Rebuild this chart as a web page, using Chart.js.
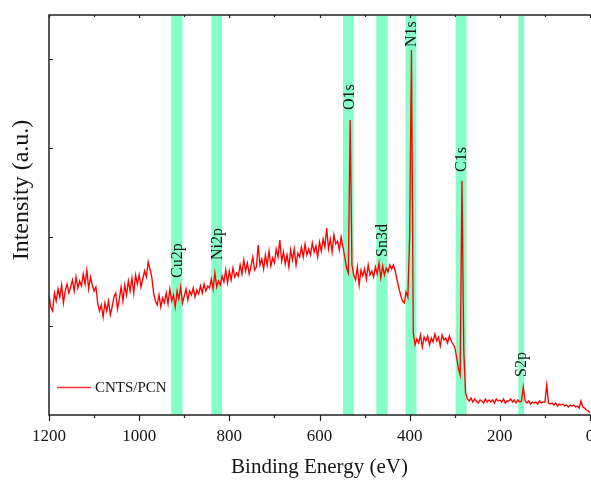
<!DOCTYPE html>
<html><head><meta charset="utf-8">
<script src="https://cdn.jsdelivr.net/npm/chart.js@4.4.0/dist/chart.umd.min.js"></script>
<style>html,body{margin:0;padding:0;background:#fff;}#wrap{width:591px;height:483px;}</style>
</head><body><div id="wrap"><canvas id="c" width="591" height="483"></canvas></div>
<script>
// Binding energy grid of the survey scan (eV)
const energyStart = 1200;
const energyStep = 4;
// Intensity (a.u.), one value per grid energy, 1200 -> 0 eV
const intensity = [
120,108,104,122,114, 126,118,130,112,124, 131,122,128,135,124, 138,127,134,129,141,
131,145,126,138,130, 124,128,112,104,110, 98,112,104,114,100, 108,118,122,106,116,
128,114,130,120,134, 124,137,122,140,131, 140,128,136,144,138, 153,146,138,122,114,
110,120,108,117,112, 122,111,126,114,120, 108,124,116,128,112, 119,126,115,124,120,
127,118,125,121,129, 122,131,124,129,127, 136,126,142,128,134, 130,139,133,145,132,
144,135,147,138,142, 139,150,141,155,144, 152,141,149,158,145, 148,170,150,156,146,
160,150,164,149,157, 152,166,158,175,154, 163,151,160,148,165, 155,166,150,162,158,
168,158,171,160,166, 160,172,163,169,158, 173,164,176,168,187, 166,176,163,180,171,
174,165,178,168,158, 147,142,295,150,140, 135,148,130,145,139, 146,136,150,140,144,
138,148,141,152,137, 149,140,147,143,150, 146,150,144,135,127, 120,114,112,123,118,
180,365,82,70,76, 72,80,68,78,74, 79,70,77,73,81, 74,78,69,80,75,
77,72,79,74,71, 68,58,47,40,234, 65,22,16,14,17, 13,16,14,12,15,
14,12,16,13,15, 13,15,12,16,14, 15,13,16,12,14, 14,16,13,15,12,
15,13,14,28,14, 12,14,11,13,12, 13,11,14,12,13, 13,30,12,11,12,
10,12,9,11,10, 11,9,10,8,10, 9,10,8,9,7, 14,8,7,5,4,
2
];
const seriesName = 'CNTS/PCN';
// Highlighted element regions (eV)
const bandNames = ['Cu2p','Ni2p','O1s','Sn3d','N1s','C1s','S2p'];
const bandFrom  = [929, 840, 548, 474, 409, 298, 159];
const bandTo    = [904, 816, 524, 449, 385, 274, 146];
const labelAt   = [137, 155, 305, 158, 368, 243, 38];
const xTickLabels = [1200, 1000, 800, 600, 400, 200, 0];
const xMinorTicks = [1100, 900, 700, 500, 300, 100];
const yTickValues = [89, 178, 267, 356];

const points = intensity.map((v, i) => ({x: energyStart - i * energyStep, y: v}));
const FONT = '"Liberation Serif", "Times New Roman", serif';
const INK = '#151515';

const decor = {
  id: 'decor',
  beforeDatasetsDraw(chart) {
    const {ctx, chartArea: a, scales: {x}} = chart;
    ctx.save();
    ctx.fillStyle = 'rgb(133,255,199)';
    bandNames.forEach((n, i) => {
      const x1 = x.getPixelForValue(bandFrom[i]);
      const x2 = x.getPixelForValue(bandTo[i]);
      ctx.fillRect(x1, a.top + 1, x2 - x1, a.bottom - a.top - 1);
    });
    ctx.restore();
  },
  afterDatasetsDraw(chart) {
    const {ctx, chartArea: a, scales: {x, y}} = chart;
    ctx.save();
    // band labels
    ctx.fillStyle = INK;
    ctx.font = '16px ' + FONT;
    ctx.textAlign = 'left';
    ctx.textBaseline = 'middle';
    bandNames.forEach((n, i) => {
      const cx = x.getPixelForValue((bandFrom[i] + bandTo[i]) / 2);
      const by = y.getPixelForValue(labelAt[i]);
      ctx.save();
      ctx.translate(cx, by);
      ctx.rotate(-Math.PI / 2);
      ctx.fillText(n, 0, 1);
      ctx.restore();
    });
    // axes
    ctx.strokeStyle = '#222';
    ctx.lineWidth = 1.5;
    ctx.beginPath();
    ctx.moveTo(a.left, a.top); ctx.lineTo(a.left, a.bottom);
    ctx.moveTo(a.left - 0.75, a.bottom); ctx.lineTo(a.right + 1, a.bottom);
    ctx.moveTo(a.left - 0.75, a.top); ctx.lineTo(a.right + 1, a.top);
    ctx.stroke();
    ctx.lineWidth = 1.2;
    ctx.beginPath();
    xTickLabels.forEach(v => {
      const px = Math.round(x.getPixelForValue(v)) + 0.5;
      ctx.moveTo(px, a.bottom); ctx.lineTo(px, a.bottom + 6);
      ctx.moveTo(px, a.top); ctx.lineTo(px, a.top + 3);
    });
    xMinorTicks.forEach(v => {
      const px = Math.round(x.getPixelForValue(v)) + 0.5;
      ctx.moveTo(px, a.bottom); ctx.lineTo(px, a.bottom + 3);
      ctx.moveTo(px, a.top); ctx.lineTo(px, a.top + 2);
    });
    yTickValues.forEach(v => {
      const py = Math.round(y.getPixelForValue(v)) + 0.5;
      ctx.moveTo(a.left, py); ctx.lineTo(a.left + 4, py);
    });
    ctx.stroke();
    // tick labels
    ctx.fillStyle = INK;
    ctx.font = '17px ' + FONT;
    ctx.textAlign = 'center';
    ctx.textBaseline = 'middle';
    xTickLabels.forEach(v => ctx.fillText(String(v), x.getPixelForValue(v), 437));
    // titles
    ctx.font = '21px ' + FONT;
    ctx.fillText('Binding Energy (eV)', (a.left + a.right) / 2, 467);
    ctx.save();
    ctx.translate(22, 190);
    ctx.rotate(-Math.PI / 2);
    ctx.font = '24px ' + FONT;
    ctx.fillText('Intensity (a.u.)', 0, 0);
    ctx.restore();
    // legend
    ctx.strokeStyle = '#ff3030';
    ctx.lineWidth = 1.5;
    ctx.beginPath();
    ctx.moveTo(57, 387.5); ctx.lineTo(91, 387.5);
    ctx.stroke();
    ctx.font = '15px ' + FONT;
    ctx.textAlign = 'left';
    ctx.fillText(seriesName, 95, 388);
    ctx.restore();
  }
};

new Chart(document.getElementById('c'), {
  type: 'line',
  data: {datasets: [{label: seriesName, data: points, borderColor: '#ff0000', borderWidth: 1.35,
    pointRadius: 0, tension: 0, fill: false}]},
  options: {
    responsive: false, animation: false, devicePixelRatio: 1,
    layout: {padding: {top: 15, right: 1, left: 0, bottom: 0}},
    plugins: {legend: {display: false}, tooltip: {enabled: false}},
    scales: {
      x: {type: 'linear', reverse: true, min: 0, max: 1200,
        ticks: {display: false}, grid: {display: false}, border: {display: false},
        afterFit: s => { s.height = 68; }},
      y: {type: 'linear', min: 0, max: 400,
        ticks: {display: false, stepSize: 89}, grid: {display: false}, border: {display: false},
        afterFit: s => { s.width = 49; }}
    }
  },
  plugins: [decor]
});
</script>
</body></html>
